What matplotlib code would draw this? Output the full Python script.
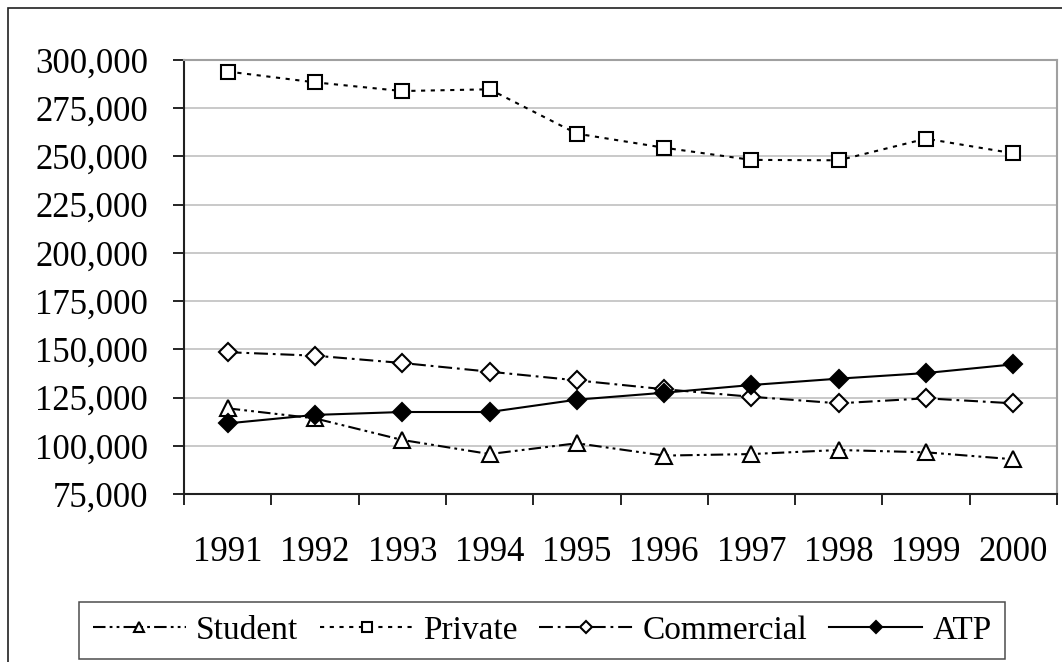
#! /usr/bin/env python3
# Pilot counts by certificate type, 1991-2000 (Excel-style line chart)

import matplotlib
matplotlib.use("Agg")
import matplotlib.pyplot as plt
from matplotlib.patches import Rectangle
from matplotlib.ticker import FuncFormatter, FixedLocator

years = ["1991", "1992", "1993", "1994", "1995",
         "1996", "1997", "1998", "1999", "2000"]
student = [119400, 114200, 103000, 95700, 101300,
           94900, 95700, 97800, 96600, 93000]
private = [294000, 288400, 283900, 284800, 261800,
           254500, 248200, 248000, 259200, 251600]
commercial = [148500, 146700, 142900, 138400, 133900,
              129300, 125400, 122000, 124600, 122000]
atp = [111600, 116000, 117500, 117500, 123900,
       127500, 131500, 134800, 137700, 142200]
y_ticks = [75000, 100000, 125000, 150000, 175000,
           200000, 225000, 250000, 275000, 300000]


def main():
    plt.rcParams["font.family"] = ["Liberation Serif", "DejaVu Serif"]
    plt.rcParams["lines.scale_dashes"] = False

    fig = plt.figure(figsize=(10.62, 6.62), dpi=100)
    ax = fig.add_axes([0.1733, 0.2538, 0.822, 0.6556])

    x = list(range(len(years)))
    lw = 1.5
    ax.plot(x, student, color="black", lw=lw, dashes=(9, 3, 2, 3, 2, 3),
            marker="^", ms=12, mfc="white", mec="black", mew=1.5,
            label="Student", zorder=3)
    ax.plot(x, private, color="black", lw=lw, dashes=(3, 4),
            marker="s", ms=10, mfc="white", mec="black", mew=1.5,
            label="Private", zorder=3)
    ax.plot(x, commercial, color="black", lw=lw, dashes=(10, 3.5, 2, 3.5),
            marker="D", ms=9, mfc="white", mec="black", mew=1.5,
            label="Commercial", zorder=3)
    ax.plot(x, atp, color="black", lw=lw,
            marker="D", ms=9.5, mfc="black", mec="black", mew=1.5,
            label="ATP", zorder=4)

    # axes, ticks and grid
    ax.set_xlim(-0.5, len(years) - 0.5)
    ax.set_ylim(y_ticks[0], y_ticks[-1])
    ax.xaxis.set_major_locator(FixedLocator([i - 0.5 for i in range(len(years) + 1)]))
    ax.xaxis.set_major_formatter(FuncFormatter(lambda v, p: ""))
    ax.xaxis.set_minor_locator(FixedLocator(x))
    ax.set_xticklabels(years, minor=True)
    ax.tick_params(axis="x", which="major", length=8, width=1.2, direction="out")
    ax.tick_params(axis="x", which="minor", length=0, labelsize=25, pad=30)
    ax.set_yticks(y_ticks)
    ax.yaxis.set_major_formatter(FuncFormatter(lambda v, p: "{:,.0f}".format(v)))
    ax.tick_params(axis="y", length=8, width=1.2, direction="out",
                   labelsize=25, pad=18)
    ax.grid(axis="y", color="#c0c0c0", lw=1.2)
    ax.set_axisbelow(True)

    for side in ["left", "bottom"]:
        ax.spines[side].set_color("#202020")
        ax.spines[side].set_linewidth(1.5)
    for side in ["top", "right"]:
        ax.spines[side].set_color("#a0a0a0")
        ax.spines[side].set_linewidth(1.5)

    leg = fig.legend(loc="center", bbox_to_anchor=(0.5105, 0.0476), ncol=4,
                     fontsize=24, frameon=True, fancybox=False,
                     handlelength=2.8, handletextpad=0.3, columnspacing=0.65,
                     markerscale=0.65, borderpad=0.4, borderaxespad=0)
    leg.get_frame().set_edgecolor("#202020")
    leg.get_frame().set_linewidth(1.1)

    # outer chart frame (cut off at right and bottom)
    fig.patches.append(Rectangle((0.0075, -0.2), 1.2, 0.9879 + 0.2,
                                 transform=fig.transFigure, fill=False,
                                 ec="#202020", lw=1.2))

    fig.savefig("out.png", dpi=100)
    plt.close(fig)


if __name__ == "__main__":
    main()
